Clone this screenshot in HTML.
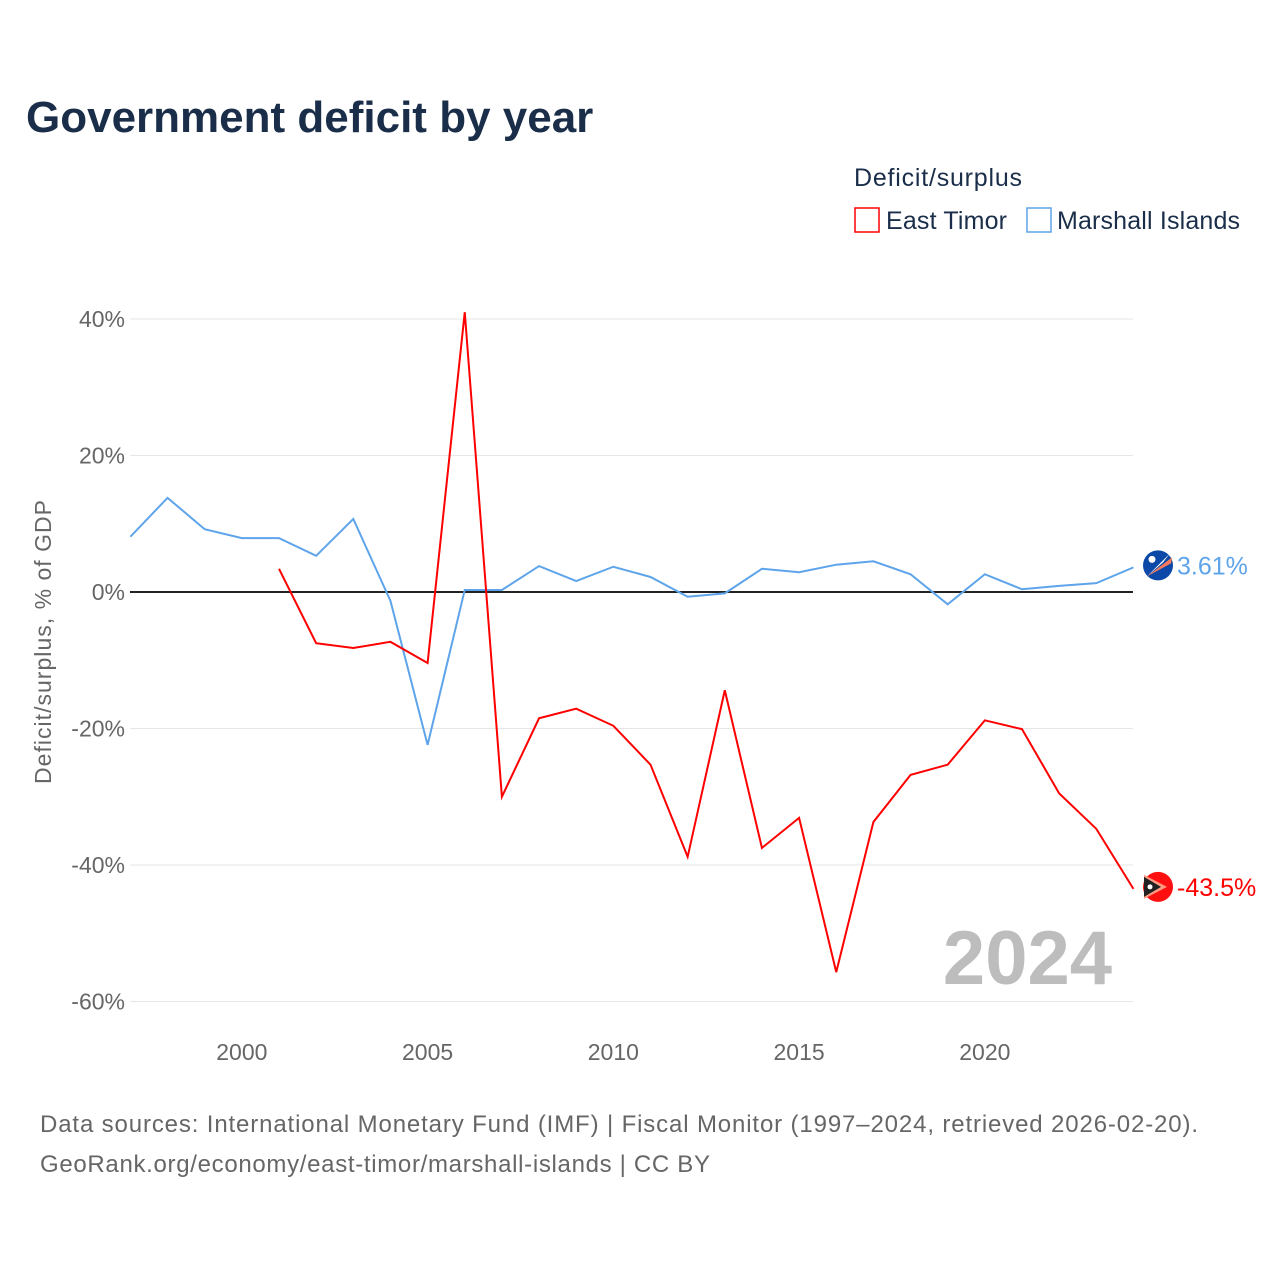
<!DOCTYPE html>
<html><head><meta charset="utf-8"><style>
body{margin:0;background:#fff;font-family:"Liberation Sans",sans-serif;}
#wrap{position:relative;width:1280px;height:1280px;}
</style></head><body>
<div id="wrap">
<svg id="chart" width="1280" height="1280"></svg>
</div>
<script>
const years=[1997,1998,1999,2000,2001,2002,2003,2004,2005,2006,2007,2008,2009,2010,2011,2012,2013,2014,2015,2016,2017,2018,2019,2020,2021,2022,2023,2024];
const marshall=[8.1,13.8,9.2,7.9,7.9,5.3,10.7,-1.3,-22.4,0.3,0.3,3.8,1.6,3.7,2.2,-0.7,-0.2,3.4,2.9,4.0,4.5,2.6,-1.8,2.6,0.4,0.9,1.3,3.61];
const timor=[null,null,null,null,3.4,-7.5,-8.2,-7.3,-10.4,41.0,-30.0,-18.5,-17.1,-19.6,-25.3,-38.8,-14.4,-37.5,-33.1,-55.7,-33.7,-26.8,-25.3,-18.8,-20.1,-29.5,-34.7,-43.5];
const yTicks=[40,20,0,-20,-40,-60];
const yTickLabels=["40%","20%","0%","-20%","-40%","-60%"];
const xTicks=[2000,2005,2010,2015,2020];

const NS="http://www.w3.org/2000/svg";
const svg=document.getElementById('chart');
const x=v=>130.4+(v-1997)*37.15;
const y=v=>592-v*6.825;
function el(t,a,p){const e=document.createElementNS(NS,t);for(const k in a)e.setAttribute(k,a[k]);(p||svg).appendChild(e);return e;}
function txt(s,a){const e=el('text',a);e.textContent=s;return e;}

let t=txt('Government deficit by year',{x:26,y:132,'font-size':44,'font-weight':'bold',fill:'#1a2e4a'});


t=txt('Deficit/surplus',{x:854,y:186,'font-size':25,fill:'#1a2e4a',textLength:168});


let r=el('rect',{x:855,y:208,width:24,height:24,fill:'none',stroke:'#ff0000','stroke-width':1.5});


t=txt('East Timor',{x:886,y:229,'font-size':25,fill:'#1a2e4a',textLength:121});


r=el('rect',{x:1027,y:208,width:24,height:24,fill:'none',stroke:'#5ea4ea','stroke-width':1.5});


t=txt('Marshall Islands',{x:1057,y:229,'font-size':25,fill:'#1a2e4a',textLength:183});



yTicks.forEach((v,i)=>{
 const g=el('line',{x1:130,x2:1133,y1:y(v),y2:y(v),stroke:v===0?'#222':'#e6e6e6','stroke-width':v===0?2:1});
 
 
 const l=txt(yTickLabels[i],{x:125,y:y(v)+8,'font-size':23,fill:'#666','text-anchor':'end'});
 
 
});
xTicks.forEach(v=>{
 const l=txt(String(v),{x:x(v),y:1060,'font-size':23,fill:'#666','text-anchor':'middle'});
 
 
});
t=txt('Deficit/surplus, % of GDP',{x:-642,y:51,'font-size':23,fill:'#666','text-anchor':'middle',transform:'rotate(-90)',textLength:284});


t=txt('2024',{x:1112,y:984,'font-size':76,'font-weight':'bold',fill:'#bdbdbd','text-anchor':'end'});



function path(vals,color,name){
 let d='';vals.forEach((v,i)=>{if(v===null)return;d+=(d?'L':'M')+x(years[i])+','+y(v);});
 const p=el('path',{d:d,fill:'none',stroke:color,'stroke-width':2});
 
 
}
path(marshall,'#5ea4ea','line-marshall-islands');
path(timor,'#ff0000','line-east-timor');

const mv=marshall[marshall.length-1], tv=timor[timor.length-1];
let g=el('g',{});


const my=y(mv)-2;
el('circle',{cx:1158,cy:my,r:15,fill:'#0b48a8'},g);
el('polygon',{points:`1147,${my+11} 1170,${my-12} 1163,${my-3}`,fill:'#ffffff'},g);
el('polygon',{points:`1147,${my+11} 1172,${my-8} 1171,${my-2}`,fill:'#f97a5a'},g);
el('circle',{cx:1152,cy:my-6,r:3.5,fill:'#fff'},g);
t=txt(mv.toFixed(2)+'%',{x:1177,y:my+9,'font-size':25,fill:'#5ea4ea'});


g=el('g',{});


const ty=y(tv)-2;
el('circle',{cx:1158,cy:ty,r:15,fill:'#ff1010'},g);
el('polygon',{points:`1144,${ty-12} 1167,${ty} 1144,${ty+12}`,fill:'#ff9a80'},g);
el('polygon',{points:`1144,${ty-10} 1161,${ty} 1144,${ty+10}`,fill:'#222'},g);
el('circle',{cx:1150,cy:ty,r:2.5,fill:'#fff'},g);
t=txt(tv.toFixed(1)+'%',{x:1177,y:ty+9,'font-size':25,fill:'#ff0000'});



t=txt('Data sources: International Monetary Fund (IMF) | Fiscal Monitor (1997–2024, retrieved 2026-02-20).',{x:40,y:1132,'font-size':24,fill:'#666',textLength:1158});


t=txt('GeoRank.org/economy/east-timor/marshall-islands | CC BY',{x:40,y:1172,'font-size':24,fill:'#666',textLength:670});


</script>
</body></html>
